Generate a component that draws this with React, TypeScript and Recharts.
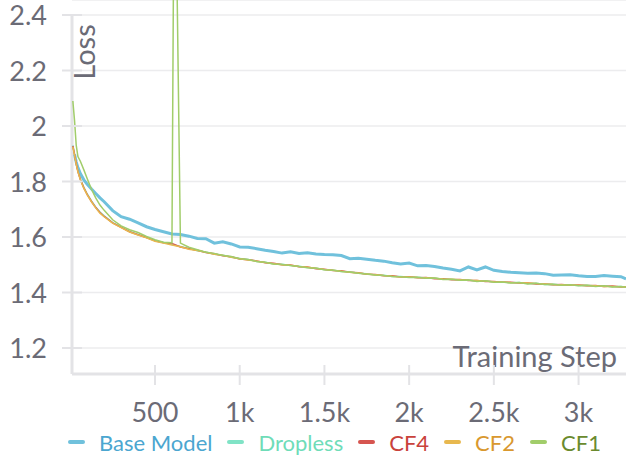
import React from 'react'
import {
  LineChart,
  Line,
  XAxis,
  YAxis,
  CartesianGrid,
  Legend,
  ReferenceLine,
} from 'recharts'

const steps = [
  15, 25, 35, 45, 60, 80, 100, 125, 150, 175, 200, 250, 300, 350, 400, 450, 500,
  550, 600, 615, 650, 700, 750, 800, 850, 900, 950, 1000, 1050, 1100, 1150,
  1200, 1250, 1300, 1350, 1400, 1450, 1500, 1550, 1600, 1650, 1700, 1750, 1800,
  1850, 1900, 1950, 2000, 2050, 2100, 2150, 2200, 2250, 2300, 2350, 2400, 2450,
  2500, 2550, 2600, 2650, 2700, 2750, 2800, 2850, 2900, 2950, 3000, 3050, 3100,
  3150, 3200, 3250, 3280,
]

const baseModel = [
  null, 1.898, 1.87, 1.85, 1.828, 1.806, 1.79, 1.773, 1.757, 1.741, 1.727,
  1.695, 1.673, 1.664, 1.651, 1.637, 1.627, 1.619, 1.611, null, 1.609, 1.603,
  1.595, 1.594, 1.578, 1.583, 1.575, 1.564, 1.563, 1.558, 1.552, 1.548, 1.542,
  1.547, 1.541, 1.543, 1.539, 1.537, 1.536, 1.533, 1.522, 1.523, 1.52, 1.516,
  1.513, 1.507, 1.503, 1.506, 1.496, 1.497, 1.494, 1.488, 1.484, 1.478, 1.492,
  1.481, 1.492, 1.48, 1.476, 1.473, 1.471, 1.469, 1.47, 1.468, 1.462, 1.463,
  1.464, 1.46, 1.458, 1.458, 1.461, 1.459, 1.457, 1.449,
]

const dropless = [
  1.93, 1.9, 1.866, 1.838, 1.808, 1.779, 1.755, 1.73, 1.708, 1.69, 1.676,
  1.652, 1.636, 1.62, 1.609, 1.598, 1.587, 1.58, 1.573, null, 1.566, 1.559,
  1.55, 1.546, 1.538, 1.535, 1.527, 1.523, 1.519, 1.512, 1.509, 1.503, 1.502,
  1.497, 1.495, 1.49, 1.488, 1.482, 1.481, 1.476, 1.475, 1.469, 1.468, 1.463,
  1.462, 1.458, 1.458, 1.455, 1.455, 1.452, 1.452, 1.448, 1.448, 1.445, 1.445,
  1.441, 1.442, 1.438, 1.439, 1.435, 1.436, 1.432, 1.433, 1.429, 1.43, 1.427,
  1.428, 1.425, 1.426, 1.423, 1.424, 1.421, 1.422, 1.42,
]

const cf4 = [
  1.928, 1.897, 1.864, 1.836, 1.806, 1.777, 1.753, 1.728, 1.706, 1.688, 1.674,
  1.651, 1.635, 1.619, 1.608, 1.598, 1.586, 1.579, 1.577, null, 1.564, 1.558,
  1.552, 1.544, 1.54, 1.532, 1.529, 1.521, 1.518, 1.514, 1.507, 1.505, 1.5,
  1.499, 1.493, 1.492, 1.486, 1.484, 1.479, 1.478, 1.473, 1.471, 1.466, 1.465,
  1.46, 1.46, 1.456, 1.457, 1.453, 1.454, 1.45, 1.45, 1.446, 1.447, 1.443,
  1.443, 1.44, 1.44, 1.437, 1.437, 1.434, 1.434, 1.431, 1.431, 1.428, 1.429,
  1.426, 1.427, 1.424, 1.425, 1.422, 1.423, 1.42, 1.421,
]

const cf2 = [
  1.925, 1.895, 1.862, 1.835, 1.805, 1.775, 1.752, 1.727, 1.705, 1.686, 1.673,
  1.65, 1.634, 1.618, 1.607, 1.597, 1.585, 1.578, 1.571, null, 1.565, 1.556,
  1.551, 1.545, 1.538, 1.534, 1.527, 1.522, 1.517, 1.513, 1.508, 1.504, 1.5,
  1.498, 1.494, 1.491, 1.487, 1.483, 1.48, 1.477, 1.473, 1.47, 1.467, 1.464,
  1.461, 1.459, 1.456, 1.456, 1.454, 1.453, 1.451, 1.449, 1.448, 1.446, 1.444,
  1.443, 1.441, 1.439, 1.438, 1.436, 1.435, 1.434, 1.432, 1.431, 1.429, 1.428,
  1.427, 1.426, 1.425, 1.424, 1.422, 1.422, 1.421, 1.42,
]

const cf1 = [
  2.09, 2.02, 1.93, 1.89, 1.872, 1.842, 1.81, 1.772, 1.741, 1.715, 1.696,
  1.662, 1.64, 1.626, 1.616, 1.602, 1.59, 1.581, 1.579, 3.2, 1.578, 1.563,
  1.554, 1.545, 1.541, 1.533, 1.53, 1.522, 1.519, 1.512, 1.509, 1.503, 1.501,
  1.497, 1.494, 1.489, 1.487, 1.482, 1.48, 1.476, 1.474, 1.469, 1.467, 1.463,
  1.461, 1.458, 1.457, 1.454, 1.455, 1.451, 1.452, 1.447, 1.448, 1.444, 1.445,
  1.44, 1.442, 1.437, 1.438, 1.434, 1.436, 1.431, 1.433, 1.429, 1.43, 1.426,
  1.428, 1.424, 1.426, 1.422, 1.424, 1.42, 1.422, 1.419,
]

const xTicks = [500, 1000, 1500, 2000, 2500, 3000]
const yTicks = [1.2, 1.4, 1.6, 1.8, 2, 2.2, 2.4]

const seriesKeys = ['base', 'dropless', 'cf4', 'cf2', 'cf1']
const seriesNames = ['Base Model', 'Dropless', 'CF4', 'CF2', 'CF1']
const lineColors = ['#70c1dc', '#80e3c6', '#d65550', '#e8b84e', '#a1cd6a']
const textColors = ['#4ba6d0', '#6fdcb8', '#c9423b', '#d9982f', '#6a8a2e']

const seriesValues = [baseModel, dropless, cf4, cf2, cf1]

const chartData = steps.map((step, i) => {
  const row: Record<string, number | null> = { step }
  seriesKeys.forEach((k, j) => {
    row[k] = seriesValues[j][i]
  })
  return row
})

const FONT = 'Lato, sans-serif'
const TEXT = '#6b6b76'
const AXIS = '#e3e3e6'

const formatStep = (v: number) => (v >= 1000 ? `${v / 1000}k` : `${v}`)

const XTick = ({ x, y, payload }: any) => (
  <g>
    <line x1={x} x2={x} y1={y - 9} y2={y + 11} stroke={AXIS} strokeWidth={2} />
    <text x={x} y={y + 48} textAnchor="middle" fill={TEXT} fontSize={27} fontFamily={FONT}>
      {formatStep(payload.value)}
    </text>
  </g>
)

const YTick = ({ x, y, payload }: any) => (
  <g>
    <line x1={x - 10} x2={x + 10} y1={y} y2={y} stroke={AXIS} strokeWidth={2} />
    <text x={x - 25} y={y + 10} textAnchor="end" fill={TEXT} fontSize={27} fontFamily={FONT}>
      {`${payload.value}`}
    </text>
  </g>
)

const LossLabel = ({ viewBox }: any) => {
  const x = viewBox.x + viewBox.width + 23
  const y = 52
  return (
    <text
      x={x}
      y={y}
      transform={`rotate(-90 ${x} ${y})`}
      textAnchor="middle"
      fill={TEXT}
      fontSize={29}
      fontFamily={FONT}
    >
      Loss
    </text>
  )
}

const StepLabel = ({ viewBox }: any) => (
  <text
    x={viewBox.x + viewBox.width - 9}
    y={viewBox.y - 7}
    textAnchor="end"
    fill={TEXT}
    fontSize={29}
    fontFamily={FONT}
  >
    Training Step
  </text>
)

const renderLegend = () => (
  <div
    style={{
      display: 'flex',
      alignItems: 'center',
      height: 28,
      width: 626,
      boxSizing: 'border-box',
      paddingLeft: 68,
      fontFamily: FONT,
      fontSize: 22,
      whiteSpace: 'nowrap',
    }}
  >
    {seriesNames.map((name, i) => (
      <div
        key={name}
        style={{ display: 'flex', alignItems: 'center', marginRight: 15, flexShrink: 0 }}
      >
        <span
          style={{
            display: 'inline-block',
            width: 17,
            height: 4,
            borderRadius: 2,
            background: lineColors[i],
            marginRight: 14,
          }}
        />
        <span style={{ color: textColors[i] }}>{name}</span>
      </div>
    ))}
  </div>
)

export default function App() {
  return (
    <div style={{ position: 'fixed', left: 0, top: 0, background: '#fff' }}>
      <LineChart
        width={626}
        height={456}
        data={chartData}
        margin={{ top: 0, right: 0, left: 0, bottom: 0 }}
      >
        <CartesianGrid vertical={false} stroke="#ececee" strokeWidth={1.5} />
        <XAxis
          dataKey="step"
          type="number"
          domain={[10, 3280]}
          ticks={xTicks}
          interval={0}
          height={54}
          tickSize={0}
          tickMargin={0}
          tick={<XTick />}
          axisLine={{ stroke: AXIS, strokeWidth: 3 }}
          tickLine={false}
          label={{ content: <StepLabel /> }}
        />
        <YAxis
          type="number"
          domain={[1.1063, 2.4541]}
          allowDataOverflow
          ticks={yTicks}
          interval={0}
          width={72}
          tickSize={0}
          tickMargin={0}
          tick={<YTick />}
          axisLine={false}
          tickLine={false}
          label={{ content: <LossLabel /> }}
        />
        <ReferenceLine
          segment={[
            { x: 10, y: 1.1063 },
            { x: 10, y: 2.4 },
          ]}
          stroke={AXIS}
          strokeWidth={3}
        />
        <Legend verticalAlign="bottom" content={renderLegend} />
        {seriesKeys.map((k, i) => (
          <Line
            key={k}
            dataKey={k}
            name={seriesNames[i]}
            type="linear"
            stroke={lineColors[i]}
            strokeWidth={i === 0 ? 3 : 1.5}
            dot={false}
            connectNulls
            isAnimationActive={false}
          />
        ))}
      </LineChart>
    </div>
  )
}
